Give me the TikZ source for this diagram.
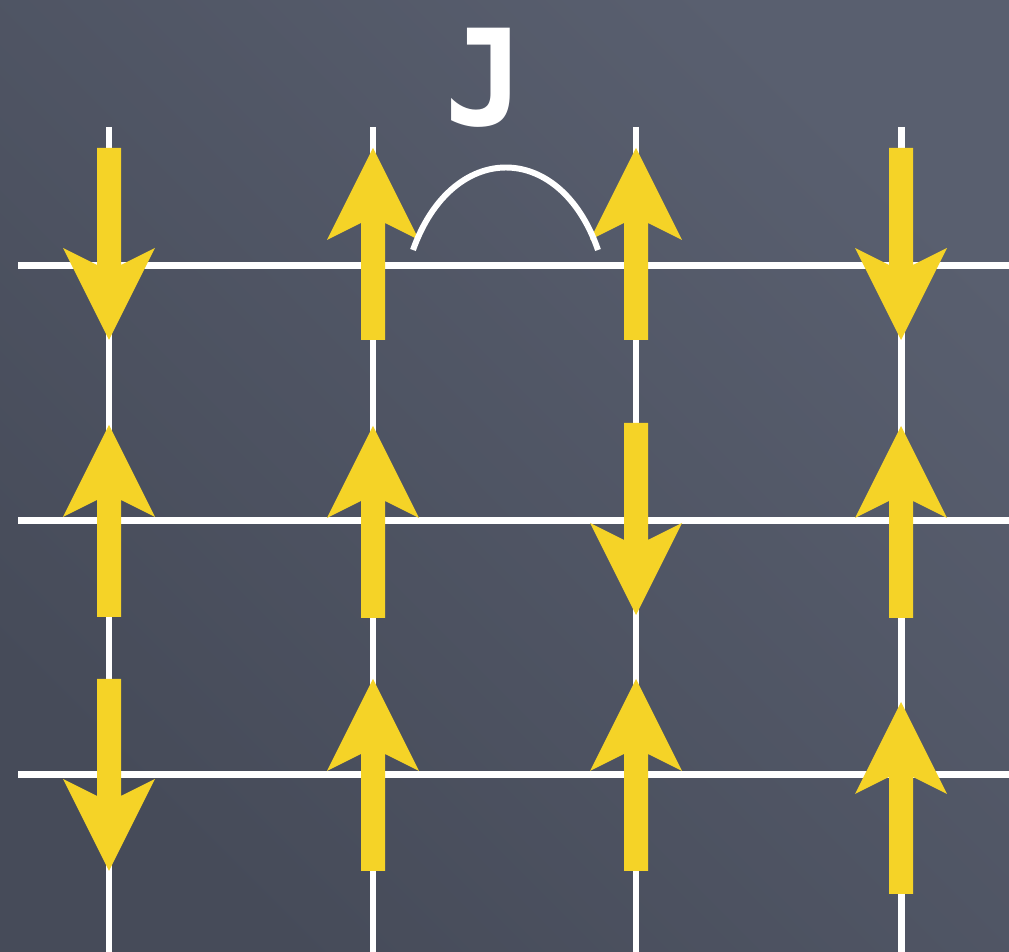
\documentclass[tikz,border=0pt]{standalone}
\usepackage{fontspec}
\newfontfamily\jfont{DejaVu Sans Mono}
\definecolor{bgdark}{HTML}{464B59}
\definecolor{bglight}{HTML}{595F6F}
\definecolor{spinyellow}{HTML}{F5D327}
\tikzset{
  gridline/.style={white, line width=3.98pt},
  spinshape/.style={fill=spinyellow, draw=none},
  pics/spinup/.style={code={
    \fill[spinshape] (0,0) -- (46,92) -- (12,75) -- (12,192) -- (-12,192) -- (-12,75) -- (-46,92) -- cycle;
  }},
  pics/spindown/.style={code={
    \fill[spinshape] (0,0) -- (46,-92) -- (12,-75) -- (12,-192) -- (-12,-192) -- (-12,-75) -- (-46,-92) -- cycle;
  }},
}
\begin{document}
\begin{tikzpicture}[x=0.02cm, y=-0.02cm]
  % background
  \shade[left color=bgdark, right color=bglight, shading angle=135] (0,0) rectangle (1009,952);
  \useasboundingbox (0,0) rectangle (1009,952);
  % grid coordinates
  \foreach \n/\x in {1/109, 2/373, 3/636, 4/901} {
    \coordinate (vt\n) at (\x,127);
    \coordinate (vb\n) at (\x,952);
  }
  \foreach \n/\y in {1/266, 2/521, 3/775} {
    \coordinate (hl\n) at (18,\y);
    \coordinate (hr\n) at (1009,\y);
  }
  \foreach \n in {1,2,3,4} \draw[gridline] (vt\n) -- (vb\n);
  \foreach \n in {1,2,3} \draw[gridline] (hl\n) -- (hr\n);
  % spins: up arrows (tip position)
  \pic at (109,425) {spinup};
  \pic at (373,148) {spinup};
  \pic at (373,426) {spinup};
  \pic at (373,679) {spinup};
  \pic at (636,148) {spinup};
  \pic at (636,679) {spinup};
  \pic at (901,426) {spinup};
  \pic at (901,702) {spinup};
  % spins: down arrows (tip position)
  \pic at (109,340) {spindown};
  \pic at (109,871) {spindown};
  \pic at (636,615) {spindown};
  \pic at (901,340) {spindown};
  % coupling arc
  \coordinate (arcL) at (413,250);
  \coordinate (arcR) at (598,250);
  \draw[white, line width=3.4pt] (arcL) .. controls (452,140) and (560,140) .. (arcR);
  \node[white, inner sep=0pt, font=\jfont\bfseries\fontsize{76}{80}\selectfont] (J) at (485,78) {J};
\end{tikzpicture}
\end{document}
